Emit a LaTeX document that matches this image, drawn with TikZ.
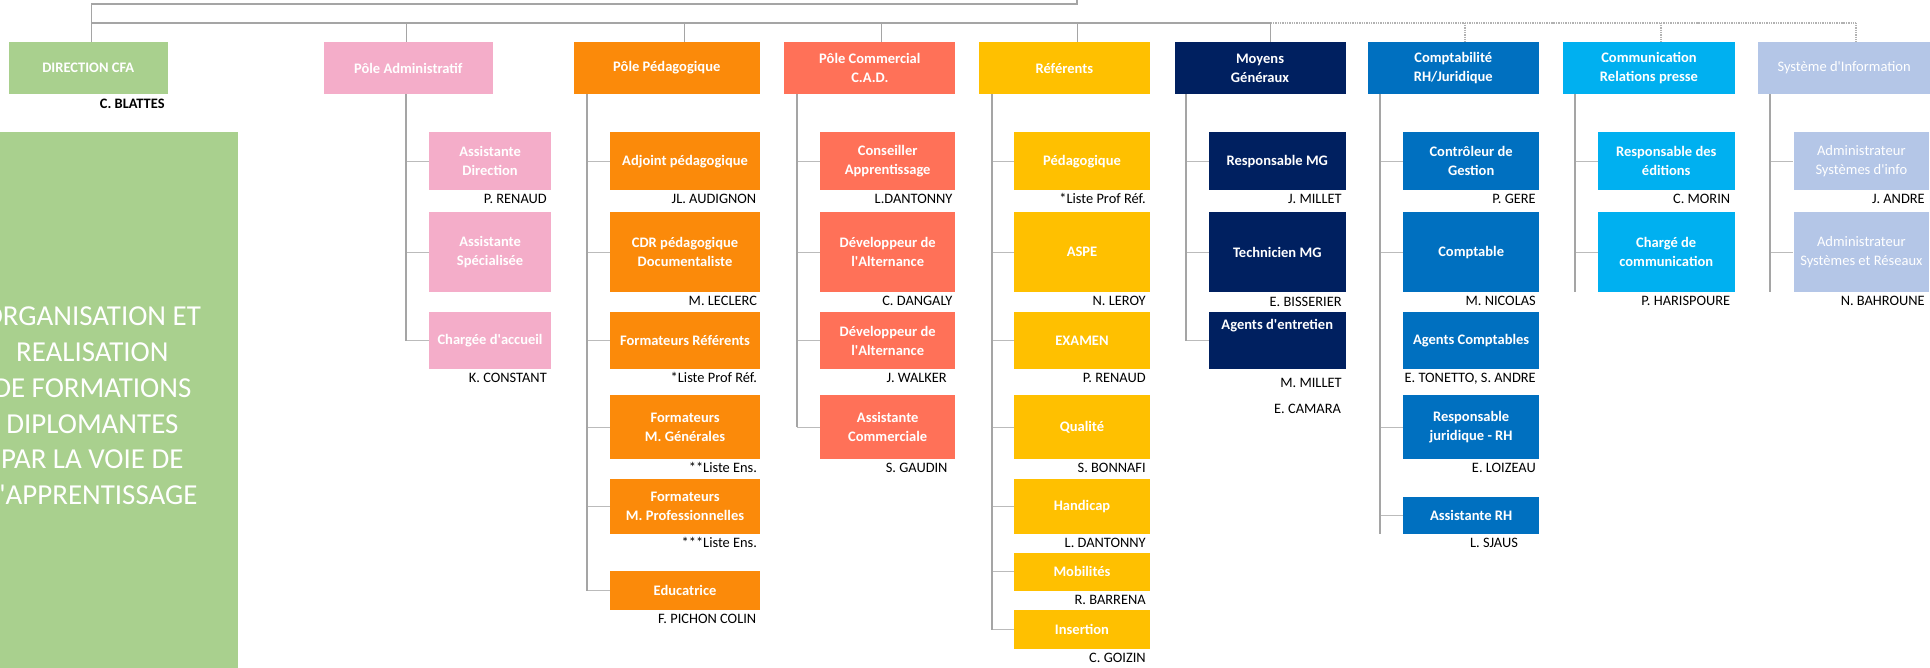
\documentclass[tikz,border=0pt]{standalone}
\usepackage{fontspec}
\setmainfont{Carlito}
\newcommand{\apo}{\textquotesingle}
\definecolor{greenc}{HTML}{A9D08E}
\definecolor{pinkc}{HTML}{F4ADC9}
\definecolor{orangec}{HTML}{FB8A0A}
\definecolor{salmonc}{HTML}{FF7158}
\definecolor{yellowc}{HTML}{FFC000}
\definecolor{navyc}{HTML}{002060}
\definecolor{bluec}{HTML}{0070C0}
\definecolor{skyc}{HTML}{00B0F0}
\definecolor{lavc}{HTML}{B4C6E7}
\definecolor{linec}{HTML}{A5A5A5}
\begin{document}
\begin{tikzpicture}[x=1pt,y=-1pt,
  box/.style={rectangle,inner sep=0pt,anchor=north west,text=white,align=center,
    font=\fontsize{11.8}{15.4}\selectfont\bfseries},
  plain/.style={font=\fontsize{11.8}{15.4}\selectfont},
  top/.style={box,minimum height=42},
  rowa/.style={minimum height=47.2},
  rowb/.style={minimum height=65},
  rowc/.style={minimum height=46},
  rowd/.style={minimum height=52},
  rowe/.style={minimum height=45},
  who/.style={inner sep=0pt,anchor=mid east,font=\fontsize{11.7}{14}\selectfont},
  bus/.style={linec,line width=1.8pt},
  drop/.style={linec,line width=1.2pt},
  trunk/.style={linec,line width=1.6pt},
  branch/.style={linec!75,line width=1pt},
  link/.style={linec!85,line width=1.4pt,dash pattern=on 1.1pt off 0.8pt}]

\useasboundingbox (0,0) rectangle (1568,542);
\clip (0,0) rectangle (1568,542);

% left panel
\fill[greenc] (-10,107.2) rectangle (193,552);
\node[text=white,align=center,inner sep=0pt,font=\fontsize{23.5}{29.1}\selectfont] (motto) at (75,329.7)
  {ORGANISATION ET\\REALISATION\\DE FORMATIONS\\DIPLOMANTES\\PAR LA VOIE DE\\L\apo APPRENTISSAGE};

% first level
\node[top,fill=greenc,minimum width=129] (dir) at (7,34.1) {DIRECTION CFA};
\node[top,fill=pinkc,minimum width=137] (adm) at (263,34.1) {Pôle Administratif};
\node[top,fill=orangec,minimum width=151] (ped) at (466,34.1) {Pôle Pédagogique};
\node[top,fill=salmonc,minimum width=139] (com) at (637,34.1) {Pôle Commercial\\C.A.D.};
\node[top,fill=yellowc,minimum width=139] (ref) at (795,34.1) {Référents};
\node[top,fill=navyc,minimum width=139] (moy) at (954,34.1) {Moyens\\Généraux};
\node[top,fill=bluec,minimum width=139] (cpt) at (1111,34.1) {Comptabilité\\RH/Juridique};
\node[top,fill=skyc,minimum width=139] (comm) at (1270,34.1) {Communication\\Relations presse};
\node[top,plain,fill=lavc,minimum width=140] (sys) at (1428,34.1) {Système d\apo Information};
\node[who,font=\fontsize{11.7}{14}\selectfont\bfseries] (dirw) at ([shift={(-2.5,9.4)}]dir.south east) {C. BLATTES};

% Pole Administratif
\node[box,rowa,fill=pinkc,minimum width=99.5] (adm1) at (348.2,107.2) {Assistante\\Direction};
\node[box,rowb,fill=pinkc,minimum width=99.5] (adm2) at (348.2,172.2) {Assistante\\Spécialisée};
\node[box,rowc,fill=pinkc,minimum width=99.5] (adm3) at (348.2,253.5) {Chargée d\apo accueil};
\node[who] (adm1w) at ([shift={(-3.7,8.5)}]adm1.south east) {P. RENAUD};
\node[who] (adm3w) at ([shift={(-3.7,8.5)}]adm3.south east) {K. CONSTANT};

% Pole Pedagogique
\node[box,rowa,fill=orangec,minimum width=121.3] (ped1) at (495.7,107.2) {Adjoint pédagogique};
\node[box,rowb,fill=orangec,minimum width=121.3] (ped2) at (495.7,172.2) {CDR pédagogique\\Documentaliste};
\node[box,rowc,fill=orangec,minimum width=121.3] (ped3) at (495.7,253.5) {Formateurs Référents};
\node[box,rowd,fill=orangec,minimum width=121.3] (ped4) at (495.7,320.9) {Formateurs\\M. Générales};
\node[box,rowe,fill=orangec,minimum width=121.3] (ped5) at (495.7,388.6) {Formateurs\\M. Professionnelles};
\node[box,fill=orangec,minimum width=121.3,minimum height=31.4] (ped6) at (495.7,463.9) {Educatrice};
\node[who] (ped1w) at ([shift={(-2.8,8.5)}]ped1.south east) {JL. AUDIGNON};
\node[who] (ped2w) at ([shift={(-2.2,8.5)}]ped2.south east) {M. LECLERC};
\node[who] (ped3w) at ([shift={(-2.2,8.5)}]ped3.south east) {*Liste Prof Réf.};
\node[who] (ped4w) at ([shift={(-2.2,8.5)}]ped4.south east) {**Liste Ens.};
\node[who] (ped5w) at ([shift={(-2.2,8.5)}]ped5.south east) {***Liste Ens.};
\node[who] (ped6w) at ([shift={(-2.8,8.5)}]ped6.south east) {F. PICHON COLIN};

% Pole Commercial
\node[box,rowa,fill=salmonc,minimum width=110] (com1) at (666,107.2) {Conseiller\\Apprentissage};
\node[box,rowb,fill=salmonc,minimum width=110] (com2) at (666,172.2) {Développeur de\\l\apo Alternance};
\node[box,rowc,fill=salmonc,minimum width=110] (com3) at (666,253.5) {Développeur de\\l\apo Alternance};
\node[box,rowd,fill=salmonc,minimum width=110] (com4) at (666,320.9) {Assistante\\Commerciale};
\node[who] (com1w) at ([shift={(-2.4,8.5)}]com1.south east) {L.DANTONNY};
\node[who] (com2w) at ([shift={(-2.4,8.5)}]com2.south east) {C. DANGALY};
\node[who] (com3w) at ([shift={(-7,8.5)}]com3.south east) {J. WALKER};
\node[who] (com4w) at ([shift={(-6.4,8.5)}]com4.south east) {S. GAUDIN};

% Referents
\node[box,rowa,fill=yellowc,minimum width=110.3] (ref1) at (823.7,107.2) {Pédagogique};
\node[box,rowb,fill=yellowc,minimum width=110.3] (ref2) at (823.7,172.2) {ASPE};
\node[box,rowc,fill=yellowc,minimum width=110.3] (ref3) at (823.7,253.5) {EXAMEN};
\node[box,rowd,fill=yellowc,minimum width=110.3] (ref4) at (823.7,320.9) {Qualité};
\node[box,rowe,fill=yellowc,minimum width=110.3] (ref5) at (823.7,388.6) {Handicap};
\node[box,fill=yellowc,minimum width=110.3,minimum height=31.2] (ref6) at (823.7,448.7) {Mobilités};
\node[box,fill=yellowc,minimum width=110.3,minimum height=31.4] (ref7) at (823.7,495.6) {Insertion};
\node[who] (ref1w) at ([shift={(-3.4,8.5)}]ref1.south east) {*Liste Prof Réf.};
\node[who] (ref2w) at ([shift={(-3.4,8.5)}]ref2.south east) {N. LEROY};
\node[who] (ref3w) at ([shift={(-3.4,8.5)}]ref3.south east) {P. RENAUD};
\node[who] (ref4w) at ([shift={(-3.4,8.5)}]ref4.south east) {S. BONNAFI};
\node[who] (ref5w) at ([shift={(-3.4,8.5)}]ref5.south east) {L. DANTONNY};
\node[who] (ref6w) at ([shift={(-3.4,8.5)}]ref6.south east) {R. BARRENA};
\node[who] (ref7w) at ([shift={(-3.4,8.5)}]ref7.south east) {C. GOIZIN};

% Moyens Generaux
\node[box,rowa,fill=navyc,minimum width=111] (moy1) at (982,107.2) {Responsable MG};
\node[box,rowb,fill=navyc,minimum width=111] (moy2) at (982,172.2) {Technicien MG};
\node[box,rowc,fill=navyc,minimum width=111,text depth=26] (moy3) at (982,253.5) {Agents d\apo entretien};
\node[who] (moy1w) at ([shift={(-3.2,8.5)}]moy1.south east) {J. MILLET};
\node[who] (moy2w) at ([shift={(-3.2,9.4)}]moy2.south east) {E. BISSERIER};
\node[who] (moy3w) at ([shift={(-3.2,12.4)}]moy3.south east) {M. MILLET};
\node[who] (moy4w) at ([shift={(-3.8,34)}]moy3.south east) {E. CAMARA};

% Comptabilite
\node[box,rowa,fill=bluec,minimum width=110] (cpt1) at (1140,107.2) {Contrôleur de\\Gestion};
\node[box,rowb,fill=bluec,minimum width=110] (cpt2) at (1140,172.2) {Comptable};
\node[box,rowc,fill=bluec,minimum width=110] (cpt3) at (1140,253.5) {Agents Comptables};
\node[box,rowd,fill=bluec,minimum width=110] (cpt4) at (1140,320.9) {Responsable\\juridique - RH};
\node[box,fill=bluec,minimum width=110,minimum height=29.7] (cpt5) at (1140,403.8) {Assistante RH};
\node[who] (cpt1w) at ([shift={(-2.5,8.5)}]cpt1.south east) {P. GERE};
\node[who] (cpt2w) at ([shift={(-2.5,8.5)}]cpt2.south east) {M. NICOLAS};
\node[who] (cpt3w) at ([shift={(-2.5,8.5)}]cpt3.south east) {E. TONETTO, S. ANDRE};
\node[who] (cpt4w) at ([shift={(-2.5,8.5)}]cpt4.south east) {E. LOIZEAU};
\node[who] (cpt5w) at ([shift={(-17,8.5)}]cpt5.south east) {L. SJAUS};

% Communication
\node[box,rowa,fill=skyc,minimum width=111] (comm1) at (1298,107.2) {Responsable des\\éditions};
\node[box,rowb,fill=skyc,minimum width=111] (comm2) at (1298,172.2) {Chargé de\\communication};
\node[who] (comm1w) at ([shift={(-3.5,8.5)}]comm1.south east) {C. MORIN};
\node[who] (comm2w) at ([shift={(-3.5,8.5)}]comm2.south east) {P. HARISPOURE};

% Systeme d'information
\node[box,plain,rowa,fill=lavc,minimum width=110] (sys1) at (1457,107.2) {Administrateur\\Systèmes d\apo info};
\node[box,plain,rowb,fill=lavc,minimum width=110] (sys2) at (1457,172.2) {Administrateur\\Systèmes et Réseaux};
\node[who] (sys1w) at ([shift={(-3.5,8.5)}]sys1.south east) {J. ANDRE};
\node[who] (sys2w) at ([shift={(-3.5,8.5)}]sys2.south east) {N. BAHROUNE};

% links to the level above
\coordinate (up) at (875,0);
\coordinate (dirt) at ([xshift=2.5]dir.north);
\coordinate (tie) at (dirt |- 0,3.3);
\coordinate (hub) at (dirt |- 0,18.4);
\coordinate (admt) at ([xshift=-1.5]adm.north);
\coordinate (pedt) at ([xshift=14.5]ped.north);
\coordinate (comt) at ([xshift=9.5]com.north);
\coordinate (reft) at ([xshift=10.5]ref.north);
\coordinate (moyt) at ([xshift=8.5]moy.north);
\coordinate (cptt) at ([xshift=9.5]cpt.north);
\coordinate (commt) at ([xshift=9.5]comm.north);
\coordinate (syst) at ([xshift=9.5]sys.north);

\draw[bus] (up) |- (tie);
\draw[drop] (tie) -- (dirt);
\draw[link] (hub -| moyt) -- (hub -| syst);
\draw[bus] (hub) -- (hub -| moyt);
\foreach \t in {admt,pedt,comt,reft,moyt}
  \draw[drop] (\t |- hub) -- (\t);
\foreach \t in {cptt,commt,syst}
  \draw[link] (\t |- hub) -- (\t);

% trunks and branches
\coordinate (admk) at ([xshift=66.6]adm.south west);
\coordinate (pedk) at ([xshift=10.7]ped.south west);
\coordinate (comk) at ([xshift=10.5]com.south west);
\coordinate (refk) at ([xshift=11]ref.south west);
\coordinate (moyk) at ([xshift=9.5]moy.south west);
\coordinate (cptk) at ([xshift=10.5]cpt.south west);
\coordinate (commk) at ([xshift=9.5]comm.south west);
\coordinate (sysk) at ([xshift=9.7]sys.south west);

\foreach \k/\b in {admk/adm1,admk/adm2,admk/adm3,
    pedk/ped1,pedk/ped2,pedk/ped3,pedk/ped4,pedk/ped5,pedk/ped6,
    comk/com1,comk/com2,comk/com3,comk/com4,
    refk/ref1,refk/ref2,refk/ref3,refk/ref4,refk/ref5,refk/ref6,refk/ref7,
    moyk/moy1,moyk/moy2,moyk/moy3,
    cptk/cpt1,cptk/cpt2,cptk/cpt4,cptk/cpt5,
    commk/comm1,commk/comm2,sysk/sys1,sysk/sys2}
  \draw[branch] (\k |- \b.west) -- (\b.west);

\draw[trunk] (admk) -- (admk |- adm3.west);
\draw[trunk] (pedk) -- (pedk |- ped6.west);
\draw[trunk] (comk) -- (comk |- com4.west);
\draw[trunk] (refk) -- (refk |- ref7.west);
\draw[trunk] (moyk) -- (moyk |- moy3.west);
\draw[trunk] (cptk) -- (cptk |- cpt5.south);
\draw[trunk] (commk) -- (commk |- comm2.south);
\draw[trunk] (sysk) -- (sysk |- sys2.south);

\end{tikzpicture}
\end{document}
